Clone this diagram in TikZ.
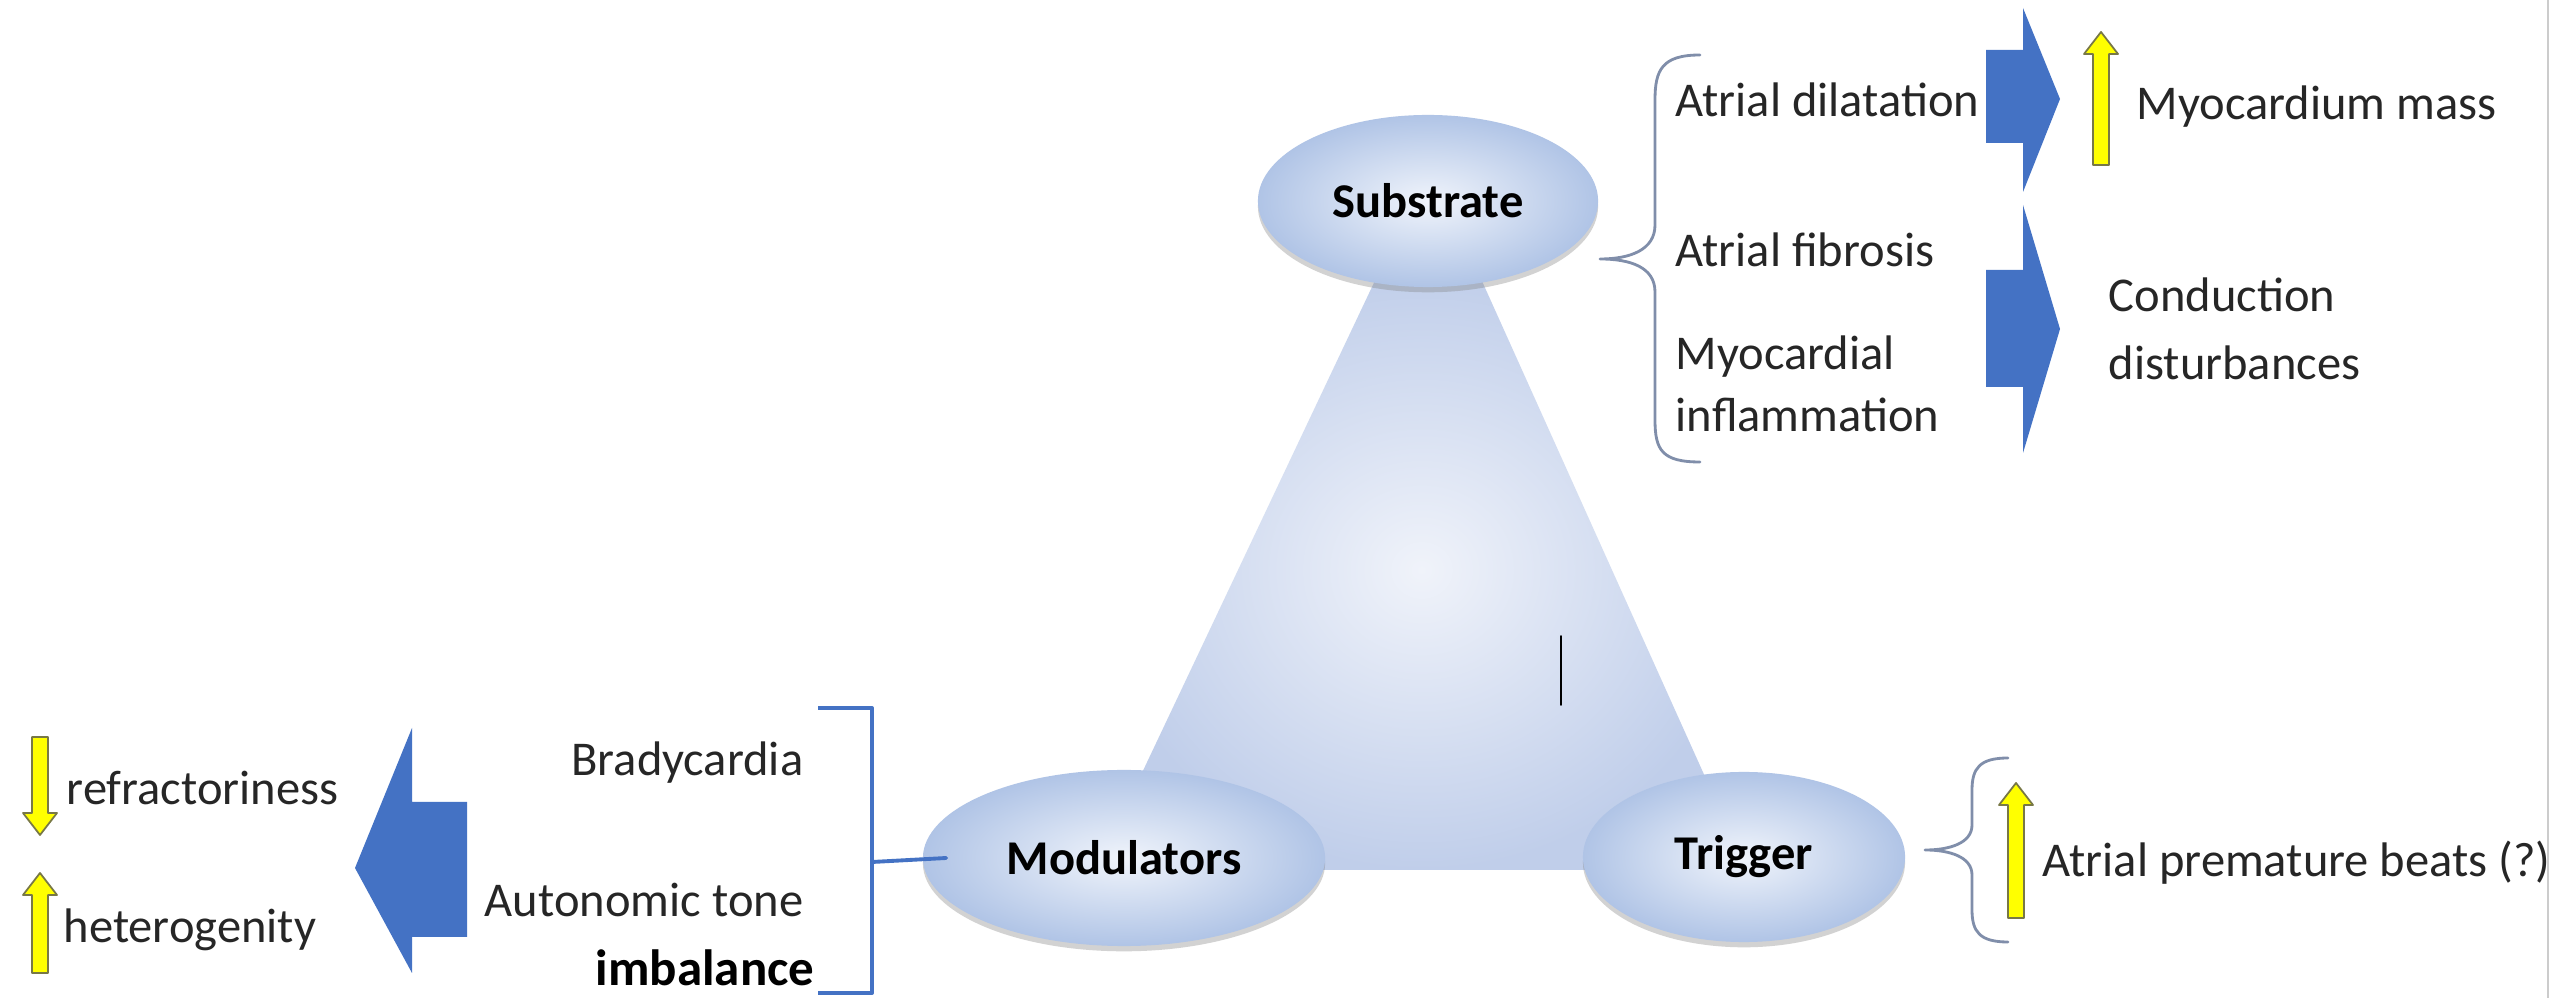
\documentclass[tikz,border=0pt]{standalone}
\usepackage{fontspec}
\setmainfont{Carlito}
\usetikzlibrary{shapes.geometric,shadows}

\definecolor{nuolisin}{RGB}{68,114,196}
\definecolor{kelt}{RGB}{255,255,0}
\definecolor{keltreuna}{RGB}{120,120,70}
\definecolor{aalto}{RGB}{128,142,170}
\definecolor{tekstiv}{RGB}{38,38,38}
\definecolor{pallo1}{RGB}{240,244,251}
\definecolor{pallo2}{RGB}{176,196,230}
\definecolor{kolmio1}{RGB}{240,243,250}
\definecolor{kolmio2}{RGB}{192,206,234}

% keltainen nuoli: x, hanta-y, karki-y
\newcommand{\keltanuoli}[3]{%
  \filldraw[fill=kelt,draw=keltreuna,line width=0.5pt]
    ({#1-8},#2) -- ({#1-8},{#3-22*sign(#3-#2)}) -- ({#1-17},{#3-22*sign(#3-#2)})
    -- (#1,#3) -- ({#1+17},{#3-22*sign(#3-#2)}) -- ({#1+8},{#3-22*sign(#3-#2)})
    -- ({#1+8},#2) -- cycle;}

\begin{document}
\begin{tikzpicture}[line cap=round,line join=round,x=0.01cm,y=-0.01cm,
  font=\fontsize{13.8}{16.6}\selectfont,
  pallo/.style={ellipse,shade,inner color=pallo1,outer color=pallo2,
    font=\fontsize{13.8}{16.6}\selectfont\bfseries,text=black,
    drop shadow={opacity=0.35,shadow xshift=0pt,shadow yshift=-1.5pt}},
  teksti/.style={text=tekstiv,inner sep=0pt},
  aalto/.style={draw=aalto,line width=0.8pt},
  sininen/.style={fill=nuolisin,draw=none}]

  \useasboundingbox (0,0) rectangle (2560,998);
  \fill[white] (0,0) rectangle (2560,998);

  % reunaviiva
  \draw[black!20,line width=0.6pt] (2548,0) -- (2548,998);

  % kolmio
  \shade[inner color=kolmio1,outer color=kolmio2] (1380,270) -- (1477,270) -- (1747,870) -- (1096,870) -- cycle;
  \draw[black,line width=0.5pt] (1561,636) -- (1561,705);

  % pallot
  \node[pallo,minimum width=3.4cm,minimum height=1.72cm] (sub) at (1428,201) {Substrate};
  \node[pallo,minimum width=4.02cm,minimum height=1.76cm] (mod) at (1124,858) {Modulators};
  \node[pallo,minimum width=3.22cm,minimum height=1.7cm] (trig) at (1744,857) {Trigger};

  % ylaoikea
  \draw[aalto] (1700,55) .. controls (1662,55) and (1655,70) .. (1655,100) -- (1655,225)
    .. controls (1655,250) and (1630,259) .. (1600,259)
    .. controls (1630,259) and (1655,267) .. (1655,292) -- (1655,420)
    .. controls (1655,450) and (1662,462) .. (1700,462);
  \node[teksti,anchor=west] (dil) at (1675,100) {Atrial dilatation};
  \node[teksti,anchor=west] (fib) at (1675,250) {Atrial fibrosis};
  \node[teksti,anchor=west] (infl) at (1675,357) {Myocardial};
  \node[teksti,anchor=west] at (1675,415) {inflammation};

  \fill[sininen] (1986,50) -- (2023,50) -- (2023,8) -- (2060,99) -- (2023,192) -- (2023,143) -- (1986,143) -- cycle;
  \fill[sininen] (1986,270) -- (2023,270) -- (2023,205) -- (2060,329) -- (2023,453) -- (2023,387) -- (1986,387) -- cycle;

  \keltanuoli{2101}{165}{32}
  \node[teksti,anchor=west] (mass) at (2136,107) {Myocardium mass};
  \node[teksti,anchor=west,align=left] (cond) at (2108,329) {Conduction\\[2.6pt]disturbances};

  % trigger
  \draw[aalto] (2008,758) .. controls (1980,758) and (1972,768) .. (1972,790) -- (1972,825)
    .. controls (1972,843) and (1950,850) .. (1925,850)
    .. controls (1950,850) and (1972,857) .. (1972,875) -- (1972,910)
    .. controls (1972,932) and (1980,942) .. (2008,942);
  \keltanuoli{2016}{918}{783}
  \node[teksti,anchor=west] (apb) at (2042,863) {Atrial premature beats (?)};

  % modulators
  \draw[nuolisin,line width=1.1pt,line cap=butt] (818,708) -- (872,708) -- (872,993) -- (818,993);
  \draw[nuolisin,line width=1.1pt] (872,862) -- ([xshift=0.24cm]mod.west);
  \node[teksti,anchor=east] (brady) at (804,763) {Bradycardia};
  \node[teksti,anchor=east] (auto) at (804,900) {Autonomic tone};
  \node[teksti,anchor=east,text=black,font=\fontsize{14.5}{17}\selectfont\bfseries] (imb) at (815,968) {imbalance};

  \fill[sininen] (467,802) -- (412,802) -- (412,728) -- (355,868) -- (412,973) -- (412,937) -- (467,937) -- cycle;

  \keltanuoli{40}{737}{835}
  \keltanuoli{40}{973}{873}
  \node[teksti,anchor=west] (refr) at (66,788) {refractoriness};
  \node[teksti,anchor=west] (het) at (63,930) {heterogenity};

\end{tikzpicture}
\end{document}
